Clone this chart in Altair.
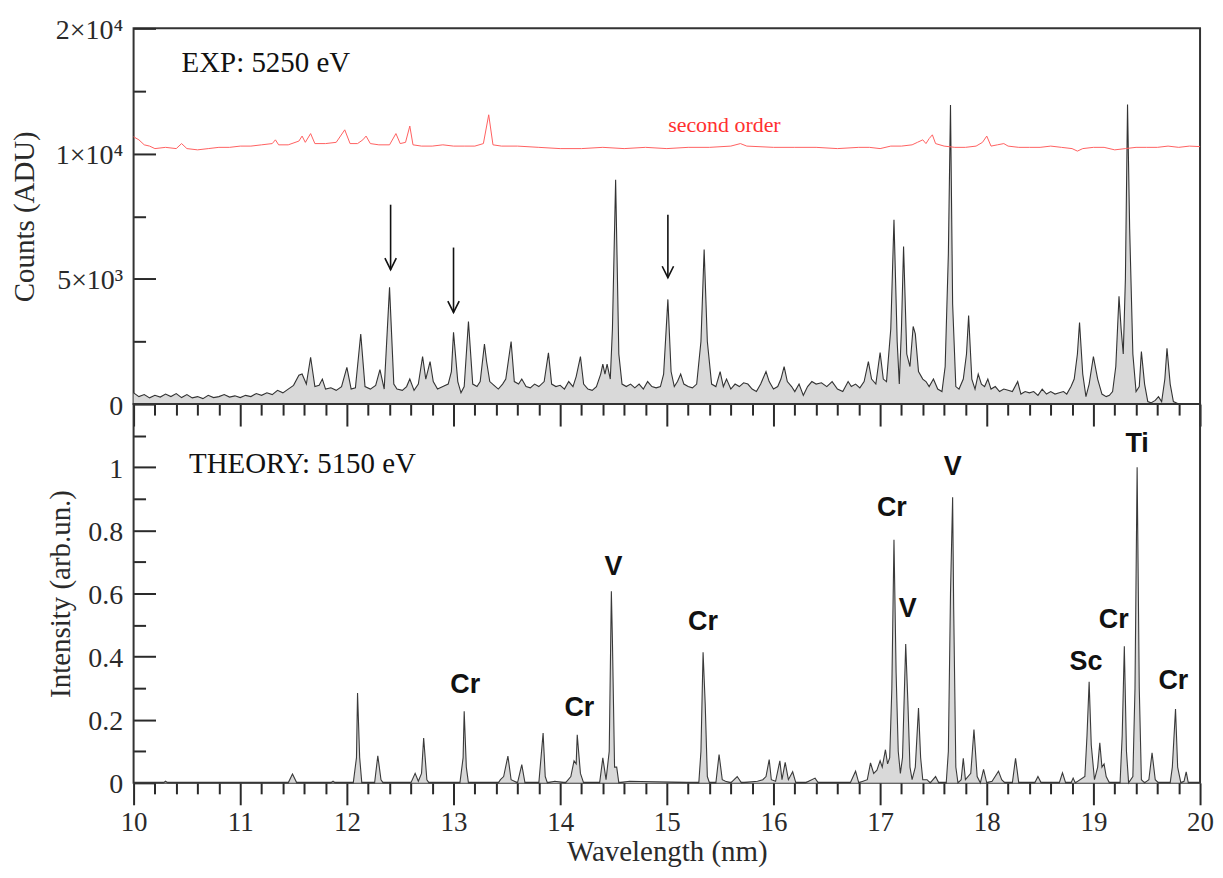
import altair as alt
import pandas as pd

# ---------------- data ----------------
# Experimental spectrum (Counts, ADU)
exp_wl = [10.00, 10.05, 10.10, 10.15, 10.20, 10.25, 10.30, 10.35, 10.40, 10.45, 10.50, 10.55, 10.60, 10.65,
          10.70, 10.75, 10.80, 10.85, 10.90, 10.95, 11.00, 11.05, 11.10, 11.15, 11.20, 11.25, 11.30, 11.35,
          11.40, 11.45, 11.50, 11.55, 11.58, 11.62, 11.66, 11.70, 11.74, 11.77, 11.80, 11.85, 11.90, 11.95,
          12.00, 12.04, 12.08, 12.13, 12.17, 12.22, 12.27, 12.31, 12.35, 12.40, 12.44, 12.47, 12.52, 12.56,
          12.59, 12.63, 12.67, 12.71, 12.74, 12.78, 12.81, 12.85, 12.90, 12.95, 12.98, 13.00, 13.04, 13.07,
          13.10, 13.14, 13.18, 13.22, 13.25, 13.29, 13.31, 13.34, 13.38, 13.42, 13.46, 13.49, 13.54, 13.57,
          13.61, 13.64, 13.68, 13.72, 13.76, 13.80, 13.85, 13.89, 13.92, 13.96, 14.00, 14.04, 14.08, 14.12,
          14.15, 14.19, 14.22, 14.26, 14.30, 14.34, 14.38, 14.40, 14.42, 14.44, 14.47, 14.49, 14.52, 14.55,
          14.58, 14.62, 14.66, 14.70, 14.74, 14.78, 14.82, 14.86, 14.90, 14.94, 14.97, 15.01, 15.04, 15.07,
          15.10, 15.13, 15.16, 15.20, 15.24, 15.28, 15.32, 15.35, 15.38, 15.42, 15.46, 15.50, 15.53, 15.56,
          15.60, 15.64, 15.68, 15.72, 15.76, 15.80, 15.84, 15.88, 15.93, 15.96, 16.00, 16.04, 16.07, 16.10,
          16.13, 16.17, 16.20, 16.24, 16.28, 16.32, 16.36, 16.40, 16.45, 16.50, 16.55, 16.60, 16.65, 16.70,
          16.73, 16.77, 16.81, 16.85, 16.89, 16.92, 16.96, 17.00, 17.03, 17.06, 17.10, 17.13, 17.16, 17.18,
          17.20, 17.22, 17.25, 17.28, 17.31, 17.33, 17.36, 17.40, 17.43, 17.46, 17.50, 17.54, 17.58, 17.61,
          17.64, 17.66, 17.68, 17.71, 17.74, 17.78, 17.81, 17.83, 17.86, 17.89, 17.92, 17.95, 17.98, 18.01,
          18.04, 18.08, 18.12, 18.16, 18.20, 18.24, 18.29, 18.32, 18.36, 18.40, 18.44, 18.48, 18.52, 18.56,
          18.60, 18.64, 18.68, 18.72, 18.75, 18.79, 18.82, 18.85, 18.87, 18.90, 18.93, 18.96, 19.00, 19.04,
          19.08, 19.12, 19.15, 19.18, 19.21, 19.24, 19.26, 19.28, 19.30, 19.32, 19.34, 19.37, 19.40, 19.43,
          19.45, 19.48, 19.51, 19.54, 19.58, 19.61, 19.64, 19.67, 19.69, 19.72, 19.75, 19.80]
exp_counts = [450, 300, 380, 250, 350, 280, 400, 300, 420, 260, 380, 250, 300, 220,
              350, 260, 300, 380, 280, 330, 260, 350, 300, 420, 350, 450, 380, 550,
              450, 600, 750, 1150, 1200, 800, 1870, 700, 750, 1000, 600, 650, 550, 700,
              1470, 600, 650, 2800, 700, 600, 750, 1380, 600, 4660, 800, 600, 550, 700,
              1000, 550, 800, 1900, 1000, 1700, 900, 600, 700, 800, 1300, 2870, 900, 450,
              700, 3300, 800, 700, 900, 2400, 1700, 900, 750, 600, 800, 1000, 2500, 900,
              800, 1000, 700, 650, 800, 700, 900, 2050, 800, 700, 750, 600, 900, 700,
              1100, 1900, 800, 600, 550, 700, 1200, 1600, 1200, 1600, 1000, 3000, 8960, 2000,
              800, 700, 800, 650, 800, 600, 900, 700, 650, 700, 1200, 4180, 1300, 700,
              900, 1200, 800, 700, 650, 800, 2500, 6170, 2500, 800, 700, 1300, 700, 1000,
              600, 800, 700, 850, 800, 600, 500, 800, 1300, 900, 600, 700, 1000, 1500,
              900, 700, 500, 800, 350, 700, 900, 800, 850, 700, 900, 600, 500, 900,
              700, 800, 650, 900, 1700, 1000, 800, 2060, 1000, 900, 3000, 7360, 2500, 800,
              3000, 6290, 2000, 1500, 3100, 2800, 1300, 1000, 900, 700, 1000, 600, 500, 1500,
              6000, 11940, 4000, 700, 600, 1000, 2000, 3540, 1000, 600, 1200, 800, 700, 1000,
              600, 700, 500, 600, 550, 500, 900, 400, 500, 450, 500, 350, 600, 400,
              500, 400, 450, 500, 400, 700, 1000, 2000, 3260, 1200, 300, 800, 1900, 1000,
              400, 300, 350, 500, 1500, 4300, 3000, 2000, 5000, 11960, 7000, 2000, 500, 700,
              2100, 800, 100, 50, 150, 300, 100, 1000, 2230, 800, 100, 0]

# Second-order trace (red)
second_wl = [10.00, 10.05, 10.10, 10.15, 10.20, 10.30, 10.40, 10.45, 10.50, 10.60, 10.70, 10.80, 10.90,
             11.00, 11.10, 11.20, 11.30, 11.33, 11.36, 11.45, 11.55, 11.58, 11.61, 11.66, 11.70, 11.80,
             11.90, 11.98, 12.03, 12.10, 12.15, 12.18, 12.22, 12.30, 12.40, 12.46, 12.50, 12.55, 12.59,
             12.62, 12.70, 12.80, 12.90, 13.00, 13.10, 13.20, 13.28, 13.33, 13.37, 13.45, 13.60, 13.80,
             14.00, 14.20, 14.40, 14.60, 14.80, 15.00, 15.20, 15.40, 15.60, 15.69, 15.75, 16.00, 16.20,
             16.40, 16.60, 16.80, 16.90, 17.00, 17.10, 17.20, 17.30, 17.35, 17.40, 17.43, 17.46, 17.49,
             17.52, 17.60, 17.70, 17.80, 17.90, 17.96, 18.00, 18.04, 18.10, 18.16, 18.20, 18.30, 18.40,
             18.50, 18.60, 18.70, 18.80, 18.85, 18.90, 19.00, 19.10, 19.20, 19.30, 19.40, 19.50, 19.60,
             19.70, 19.80, 19.90, 20.00]
second_counts = [10670, 10550, 10350, 10300, 10200, 10250, 10200, 10400, 10200, 10150, 10200, 10250, 10250,
                 10300, 10300, 10350, 10400, 10550, 10350, 10350, 10500, 10700, 10450, 10800, 10400, 10400,
                 10450, 10950, 10400, 10400, 10550, 10700, 10400, 10350, 10350, 10800, 10400, 10450, 11100,
                 10350, 10300, 10300, 10350, 10300, 10300, 10300, 10400, 11550, 10350, 10300, 10300, 10250,
                 10200, 10200, 10250, 10200, 10250, 10200, 10250, 10250, 10300, 10400, 10300, 10250, 10250,
                 10250, 10200, 10250, 10250, 10200, 10300, 10300, 10350, 10450, 10550, 10400, 10600, 10750,
                 10400, 10300, 10250, 10250, 10300, 10450, 10700, 10300, 10350, 10400, 10300, 10250, 10250,
                 10250, 10300, 10250, 10200, 10100, 10200, 10250, 10250, 10150, 10200, 10250, 10250, 10250,
                 10300, 10250, 10300, 10280]

# Theoretical spectrum (arb. units)
theo_wl = [10.00, 10.28, 10.30, 10.32, 11.45, 11.49, 11.53, 11.85, 11.87, 11.89, 12.06, 12.09, 12.10, 12.12,
           12.14, 12.26, 12.29, 12.32, 12.34, 12.60, 12.64, 12.67, 12.70, 12.72, 12.75, 12.77, 13.06, 13.09,
           13.10, 13.12, 13.14, 13.42, 13.44, 13.47, 13.51, 13.54, 13.60, 13.64, 13.67, 13.80, 13.84, 13.86,
           13.88, 13.95, 14.05, 14.10, 14.13, 14.15, 14.16, 14.19, 14.22, 14.37, 14.40, 14.43, 14.46, 14.48,
           14.49, 14.51, 14.53, 14.55, 14.65, 15.30, 15.32, 15.34, 15.36, 15.38, 15.40, 15.46, 15.49, 15.52,
           15.55, 15.60, 15.66, 15.70, 15.85, 15.90, 15.93, 15.96, 15.98, 16.02, 16.06, 16.08, 16.11, 16.14,
           16.18, 16.21, 16.30, 16.39, 16.42, 16.72, 16.77, 16.80, 16.88, 16.91, 16.94, 16.97, 17.00, 17.02,
           17.05, 17.07, 17.09, 17.11, 17.13, 17.15, 17.17, 17.19, 17.21, 17.24, 17.26, 17.28, 17.30, 17.33,
           17.36, 17.38, 17.40, 17.44, 17.47, 17.52, 17.55, 17.62, 17.64, 17.66, 17.68, 17.69, 17.71, 17.73,
           17.76, 17.78, 17.80, 17.85, 17.88, 17.91, 17.94, 17.97, 18.00, 18.05, 18.11, 18.14, 18.17, 18.24,
           18.27, 18.30, 18.45, 18.48, 18.51, 18.68, 18.71, 18.74, 18.79, 18.81, 18.83, 18.92, 18.94, 18.96,
           18.98, 19.01, 19.04, 19.06, 19.08, 19.10, 19.12, 19.15, 19.25, 19.27, 19.29, 19.31, 19.33, 19.37,
           19.39, 19.41, 19.43, 19.45, 19.48, 19.52, 19.55, 19.58, 19.61, 19.72, 19.74, 19.77, 19.79, 19.82,
           19.85, 19.87, 19.89, 20.00]
theo_int = [0, 0, 0.005, 0, 0, 0.028, 0, 0, 0.005, 0, 0, 0.08, 0.285, 0.08,
            0, 0, 0.086, 0.01, 0, 0, 0.03, 0.005, 0.03, 0.142, 0.01, 0, 0, 0.08,
            0.227, 0.05, 0, 0, 0.01, 0.02, 0.085, 0.01, 0, 0.058, 0, 0, 0.158, 0.02,
            0, 0.005, 0, 0.02, 0.07, 0.06, 0.152, 0.03, 0, 0, 0.079, 0.01, 0.1, 0.607,
            0.45, 0.05, 0.05, 0, 0.005, 0, 0.1, 0.414, 0.25, 0.02, 0, 0, 0.09, 0.01,
            0.005, 0, 0.02, 0, 0.005, 0.01, 0.02, 0.074, 0.01, 0.005, 0.07, 0.01, 0.065, 0.01,
            0.035, 0, 0, 0.015, 0, 0, 0.037, 0, 0.01, 0.063, 0.03, 0.04, 0.07, 0.05,
            0.105, 0.06, 0.08, 0.3, 0.77, 0.35, 0.1, 0.03, 0.08, 0.44, 0.26, 0.05, 0.01, 0.05,
            0.237, 0.08, 0.01, 0.01, 0, 0.02, 0, 0, 0.1, 0.6, 0.905, 0.55, 0.05, 0,
            0.01, 0.078, 0.01, 0.03, 0.169, 0.02, 0, 0.043, 0, 0.005, 0.037, 0.01, 0, 0,
            0.078, 0, 0, 0.02, 0, 0, 0.032, 0, 0, 0.015, 0, 0.02, 0.15, 0.32,
            0.12, 0.01, 0.05, 0.127, 0.05, 0.06, 0.02, 0, 0, 0.15, 0.433, 0.1, 0, 0.02,
            0.3, 1.0, 0.3, 0.01, 0, 0.01, 0.095, 0.01, 0, 0, 0.05, 0.234, 0.05, 0,
            0.005, 0.035, 0, 0]

# Arrows in the experimental panel
arrow_wl = [12.41, 13.00, 15.01]
arrow_top = [7960, 6250, 7560]
arrow_tip = [5370, 3660, 5050]

# Element labels in the theory panel
elem_label = ["Cr", "Cr", "V", "Cr", "Cr", "V", "V", "Sc", "Cr", "Ti", "Cr"]
elem_wl = [13.11, 14.18, 14.50, 15.34, 17.11, 17.26, 17.68, 18.93, 19.19, 19.41, 19.75]
elem_int = [0.31, 0.237, 0.684, 0.51, 0.87, 0.55, 1.0, 0.383, 0.515, 1.073, 0.323]

# Panel captions
top_caption = ["EXP: 5250 eV"]
top_caption_wl = [10.45]
top_caption_val = [13610]
second_caption = ["second order"]
second_caption_wl = [15.54]
second_caption_val = [11140]
bottom_caption = ["THEORY: 5150 eV"]
bottom_caption_wl = [10.52]
bottom_caption_val = [1.01]

# Axis ticks
x_major = [10, 11, 12, 13, 14, 15, 16, 17, 18, 19, 20]
x_minor = [10.2, 10.4, 10.6, 10.8, 11.2, 11.4, 11.6, 11.8, 12.2, 12.4, 12.6, 12.8, 13.2, 13.4, 13.6, 13.8,
           14.2, 14.4, 14.6, 14.8, 15.2, 15.4, 15.6, 15.8, 16.2, 16.4, 16.6, 16.8, 17.2, 17.4, 17.6, 17.8,
           18.2, 18.4, 18.6, 18.8, 19.2, 19.4, 19.6, 19.8]
y_top_major = [0, 5000, 10000, 15000]
y_top_minor = [2500, 7500, 12500]
y_bot_major = [0, 0.2, 0.4, 0.6, 0.8, 1.0]
y_bot_minor = [0.1, 0.3, 0.5, 0.7, 0.9, 1.1]

# ---------------- tables ----------------
exp_df = pd.DataFrame({"wl": exp_wl, "v": exp_counts})
sec_df = pd.DataFrame({"wl": second_wl, "v": second_counts})
theo_df = pd.DataFrame({"wl": theo_wl, "v": theo_int})
arrow_df = pd.DataFrame({"wl": arrow_wl, "top": arrow_top, "tip": arrow_tip})
elem_df = pd.DataFrame({"wl": elem_wl, "v": elem_int, "label": elem_label})
tcap_df = pd.DataFrame({"wl": top_caption_wl, "v": top_caption_val, "label": top_caption})
scap_df = pd.DataFrame({"wl": second_caption_wl, "v": second_caption_val, "label": second_caption})
bcap_df = pd.DataFrame({"wl": bottom_caption_wl, "v": bottom_caption_val, "label": bottom_caption})

SERIF = "Liberation Serif"
SANS = "Liberation Sans"
INK = "#2a2a2a"

xs = alt.Scale(domain=[10, 20], nice=False, zero=False)
ys_top = alt.Scale(domain=[0, 15000], nice=False, zero=False)
ys_bot = alt.Scale(domain=[0, 1.2], nice=False, zero=False)


def axis_style(label_size=28, title_size=29):
    return dict(domain=False, grid=False, tickColor=INK, tickWidth=2, labelColor=INK,
                titleColor=INK, labelFont=SERIF, titleFont=SERIF, labelFontSize=label_size,
                titleFontSize=title_size, titleFontWeight="normal", labelFlush=False,
                labelOverlap=False)


ax_x_top_major = alt.Axis(orient="bottom", values=x_major, tickSize=22, labels=False, title=None,
                          **axis_style())
ax_x_minor = alt.Axis(orient="bottom", values=x_minor, tickSize=11, labels=False, title=None,
                      **axis_style())
ax_x_bot_major = alt.Axis(orient="bottom", values=x_major, tickSize=22, labelPadding=5, format="d",
                          title="Wavelength (nm)", titlePadding=2, **axis_style(27, 29))

ax_y_top_major = alt.Axis(orient="left", values=y_top_major, tickSize=22, offset=-22, labelPadding=11,
                          labelOffset=2,
                          labelExpr="datum.value == 0 ? '0' : datum.value == 5000 ? '5×10³' : "
                                    "datum.value == 10000 ? '1×10⁴' : '2×10⁴'",
                          title="Counts (ADU)", titlePadding=16, **axis_style())
ax_y_top_minor = alt.Axis(orient="left", values=y_top_minor, tickSize=12, offset=-12, labels=False,
                          title=None, **axis_style())
ax_y_bot_major = alt.Axis(orient="left", values=y_bot_major, tickSize=22, offset=-22, labelPadding=11,
                          labelOffset=2, format="~g", title="Intensity (arb.un.)", titlePadding=12,
                          **axis_style())
ax_y_bot_minor = alt.Axis(orient="left", values=y_bot_minor, tickSize=12, offset=-12, labels=False,
                          title=None, **axis_style())

# ---------------- top panel ----------------
top_area = alt.Chart(exp_df).mark_area(color="#d9d9d9", interpolate="linear").encode(
    x=alt.X("wl:Q", scale=xs, axis=ax_x_top_major),
    y=alt.Y("v:Q", scale=ys_top, axis=ax_y_top_major),
)
top_line = alt.Chart(exp_df).mark_line(color="#333333", strokeWidth=1.1).encode(
    x=alt.X("wl:Q", scale=xs, axis=ax_x_minor),
    y=alt.Y("v:Q", scale=ys_top, axis=ax_y_top_minor),
)
sec_line = alt.Chart(sec_df).mark_line(color="#ff6060", strokeWidth=1).encode(
    x=alt.X("wl:Q", scale=xs, axis=None),
    y=alt.Y("v:Q", scale=ys_top, axis=None),
)
arrow_shaft = alt.Chart(arrow_df).mark_rule(color="#111111", strokeWidth=1.6).encode(
    x=alt.X("wl:Q", scale=xs, axis=None),
    y=alt.Y("top:Q", scale=ys_top, axis=None),
    y2="tip:Q",
)
arrow_head = alt.Chart(arrow_df).mark_point(
    shape="M-0.5,-1L0,0L0.5,-1", size=520, filled=False, color="#111111", strokeWidth=1.6, opacity=1
).encode(
    x=alt.X("wl:Q", scale=xs, axis=None),
    y=alt.Y("tip:Q", scale=ys_top, axis=None),
)
top_cap = alt.Chart(tcap_df).mark_text(font=SERIF, fontSize=29, align="left", baseline="middle",
                                       color="#111111").encode(
    x=alt.X("wl:Q", scale=xs, axis=None),
    y=alt.Y("v:Q", scale=ys_top, axis=None),
    text="label:N",
)
sec_cap = alt.Chart(scap_df).mark_text(font=SERIF, fontSize=22, align="center", baseline="middle",
                                       color="#ff3030").encode(
    x=alt.X("wl:Q", scale=xs, axis=None),
    y=alt.Y("v:Q", scale=ys_top, axis=None),
    text="label:N",
)

top = alt.layer(top_area, top_line, sec_line, arrow_shaft, arrow_head, top_cap, sec_cap).resolve_axis(
    x="independent", y="independent"
).properties(width=1070, height=377)

# ---------------- bottom panel ----------------
bot_area = alt.Chart(theo_df).mark_area(color="#d9d9d9", interpolate="linear").encode(
    x=alt.X("wl:Q", scale=xs, axis=ax_x_bot_major),
    y=alt.Y("v:Q", scale=ys_bot, axis=ax_y_bot_major),
)
bot_line = alt.Chart(theo_df).mark_line(color="#3a3a3a", strokeWidth=1.1).encode(
    x=alt.X("wl:Q", scale=xs, axis=ax_x_minor),
    y=alt.Y("v:Q", scale=ys_bot, axis=ax_y_bot_minor),
)
elem_text = alt.Chart(elem_df).mark_text(font=SANS, fontWeight="bold", fontSize=27, align="center",
                                         baseline="middle", color="#111111").encode(
    x=alt.X("wl:Q", scale=xs, axis=None),
    y=alt.Y("v:Q", scale=ys_bot, axis=None),
    text="label:N",
)
bot_cap = alt.Chart(bcap_df).mark_text(font=SERIF, fontSize=29, align="left", baseline="middle",
                                       color="#111111").encode(
    x=alt.X("wl:Q", scale=xs, axis=None),
    y=alt.Y("v:Q", scale=ys_bot, axis=None),
    text="label:N",
)

bottom = alt.layer(bot_area, bot_line, elem_text, bot_cap).resolve_axis(
    x="independent", y="independent"
).properties(width=1070, height=380)

chart = alt.vconcat(top, bottom, spacing=0, bounds="flush").properties(
    padding={"left": 1, "top": 6, "right": 0, "bottom": 0},
    background="white",
).configure_view(stroke="#333333", strokeWidth=2)

chart.save("out.html", embed_options={"renderer": "svg", "actions": False})
